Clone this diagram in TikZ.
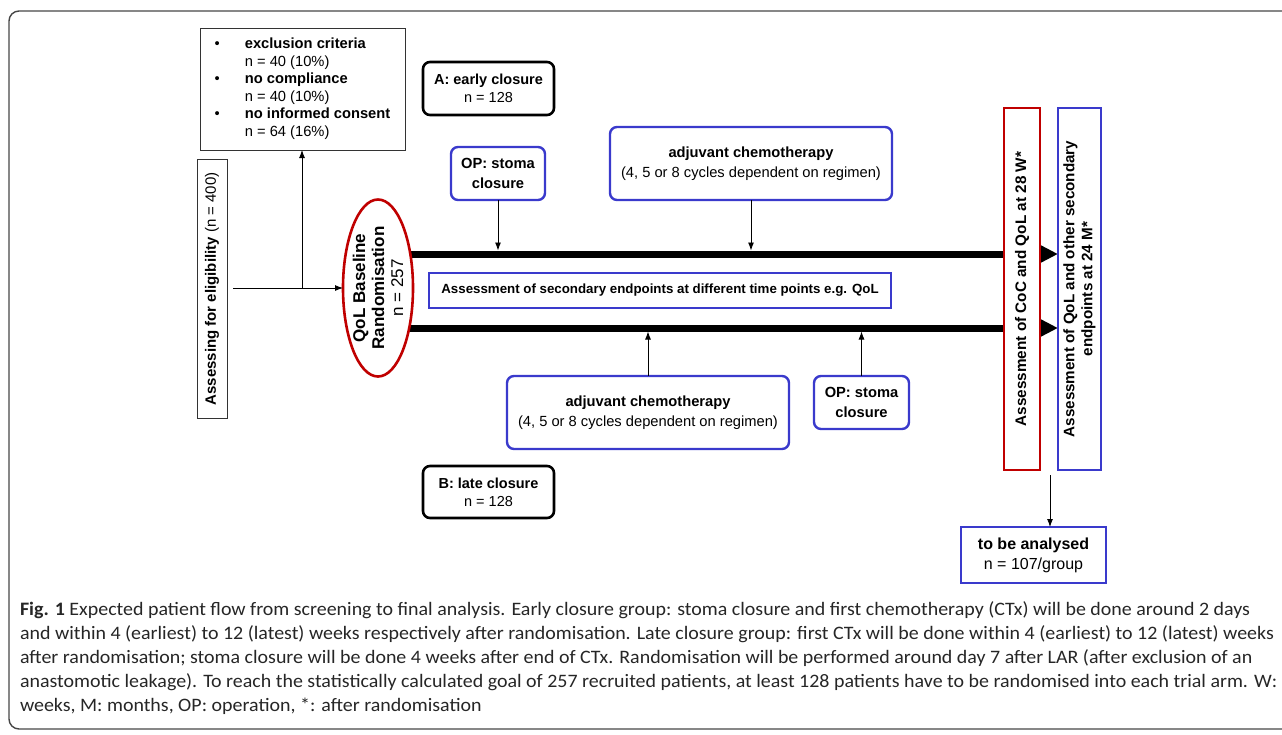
\documentclass[tikz,border=0pt]{standalone}
\usepackage{fontspec}
\setmainfont{Liberation Sans}
\newfontfamily\capfont[FakeStretch=1.05]{Carlito}
\usetikzlibrary{arrows.meta,shapes.geometric,backgrounds}
\definecolor{myblue}{RGB}{58,58,204}
\definecolor{myred}{RGB}{192,0,0}
\definecolor{framegray}{RGB}{70,70,70}
\begin{document}
\begin{tikzpicture}[x=1pt,y=-1pt,
  every node/.style={inner sep=0pt, outer sep=0pt},
  bluebox/.style={draw=myblue, line width=2.4pt, rounded corners=7pt, fill=white, align=center, font=\fontsize{14.7}{20}\selectfont},
  blackbox/.style={draw=black, line width=2.6pt, rounded corners=7pt, fill=white, align=center, font=\fontsize{14.5}{18}\selectfont},
  thinbox/.style={draw=black!80, line width=0.9pt, fill=white},
  tallbox/.style={line width=2.4pt, fill=white, minimum width=#1, minimum height=362pt},
  arr/.style={-{Latex[length=8pt,width=6pt]}, line width=0.9pt},
  track/.style={line width=7pt, -{Triangle[length=18pt,width=17pt]}},
  captext/.style={anchor=base west, text=black!85, font=\capfont\fontsize{19}{24}\selectfont},
]
\useasboundingbox (0,0) rectangle (1282,734);
\draw[framegray, line width=1.4pt, rounded corners=10pt] (1300,11) -- (9,11) -- (9,729) -- (1300,729);

% exclusion box
\node[thinbox, minimum width=205pt, minimum height=122pt] (excl) at (302.5,89)
  {\fontsize{14.7}{17.6}\selectfont\begin{tabular}{@{}l@{\hspace{25pt}}l@{}}
   •&\textbf{exclusion criteria}\\
    &n = 40 (10\%)\\
   •&\textbf{no compliance}\\
    &n = 40 (10\%)\\
   •&\textbf{no informed consent}\\
    &n = 64 (16\%)
  \end{tabular}};

% assessing
\node[thinbox, minimum width=30pt, minimum height=259pt,
  label={[rotate=90, font=\fontsize{15}{17}\selectfont]center:{\textbf{Assessing for eligibility} (n = 400)}}] (assess) at (212,289) {};

% ellipse
\node[ellipse, draw=myred, line width=2.6pt, fill=white, minimum width=70pt, minimum height=177pt,
  label={[rotate=90, align=center, font=\fontsize{17}{19}\selectfont]center:{\textbf{QoL Baseline}\\\textbf{Randomisation}\\n = 257}}] (ell) at (378,288) {};

% arm labels
\node[blackbox, minimum width=131pt, minimum height=53pt] (armA) at (488.5,88.5) {\textbf{A: early closure}\\n = 128};
\node[blackbox, minimum width=131pt, minimum height=52pt] (armB) at (488.5,492) {\textbf{B: late closure}\\n = 128};

% top arm
\node[bluebox, minimum width=94pt, minimum height=53pt, font=\bfseries\fontsize{14.7}{20}\selectfont] (opA) at (498,173.5) {OP: stoma\\closure};
\node[bluebox, minimum width=282pt, minimum height=73pt] (chemA) at (751,163.5) {\textbf{adjuvant chemotherapy}\\(4, 5 or 8 cycles dependent on regimen)};

% secondary endpoints
\node[draw=myblue, line width=2.4pt, fill=white, minimum width=462pt, minimum height=35pt, font=\bfseries\fontsize{13.3}{15}\selectfont] (sec) at (660,290.5) {Assessment of secondary endpoints at different time points e.g. QoL};

% bottom arm
\node[bluebox, minimum width=282pt, minimum height=73pt] (chemB) at (648,412.5) {\textbf{adjuvant chemotherapy}\\(4, 5 or 8 cycles dependent on regimen)};
\node[bluebox, minimum width=95pt, minimum height=53pt, font=\bfseries\fontsize{14.7}{20}\selectfont] (opB) at (861.5,402.5) {OP: stoma\\closure};

% tall assessment boxes
\node[tallbox=36pt, draw=myred,
  label={[rotate=90, font=\bfseries\fontsize{15.3}{18}\selectfont]center:Assessment of CoC and QoL at 28 W*}] (red) at (1022,289) {};
\node[tallbox=43pt, draw=myblue,
  label={[rotate=90, align=center, font=\bfseries\fontsize{15.2}{18}\selectfont]center:{Assessment of QoL and other secondary\\endpoints at 24 M*}}] (blue) at (1079.5,289) {};

% analysed
\node[draw=myblue, line width=2.4pt, fill=white, minimum width=145pt, minimum height=56pt, align=center, font=\fontsize{16}{20}\selectfont] (anal) at (1033.5,555) {\textbf{to be analysed}\\n = 107/group};

% coordinates
\coordinate (j) at (302,288);
\coordinate (ta) at (400,254);
\coordinate (tb) at (400,328);
\coordinate (dn) at (1050,475);

% tracks
\begin{scope}[on background layer]
\draw[track] (ell.center |- ta) -- (blue.west |- ta);
\draw[track] (ell.center |- tb) -- (blue.west |- tb);
\end{scope}

% connectors
\draw[line width=0.9pt] ([xshift=6pt]assess.east |- j) -- (j);
\draw[arr] (j) -- (ell.west);
\draw[arr] (j) -- (j |- excl.south);
\draw[arr, shorten >=3.5pt] (opA.south) -- (opA.south |- ta);
\draw[arr, shorten >=3.5pt] (chemA.south) -- (chemA.south |- ta);
\draw[arr, shorten >=3.5pt] (chemB.north) -- (chemB.north |- tb);
\draw[arr, shorten >=3.5pt] (opB.north) -- (opB.north |- tb);
\draw[arr] (dn) -- (dn |- anal.north);

% caption
\node[captext] (cap1) at (20,615) {\textbf{Fig. 1} Expected patient flow from screening to final analysis. Early closure group: stoma closure and first chemotherapy (CTx) will be done around 2 days};
\node[captext] (cap2) at (20,639) {and within 4 (earliest) to 12 (latest) weeks respectively after randomisation. Late closure group: first CTx will be done within 4 (earliest) to 12 (latest) weeks};
\node[captext] (cap3) at (20,663) {after randomisation; stoma closure will be done 4 weeks after end of CTx. Randomisation will be performed around day 7 after LAR (after exclusion of an};
\node[captext] (cap4) at (20,687) {anastomotic leakage). To reach the statistically calculated goal of 257 recruited patients, at least 128 patients have to be randomised into each trial arm. W:};
\node[captext] (cap5) at (20,711) {weeks, M: months, OP: operation, *: after randomisation};
\end{tikzpicture}
\end{document}
